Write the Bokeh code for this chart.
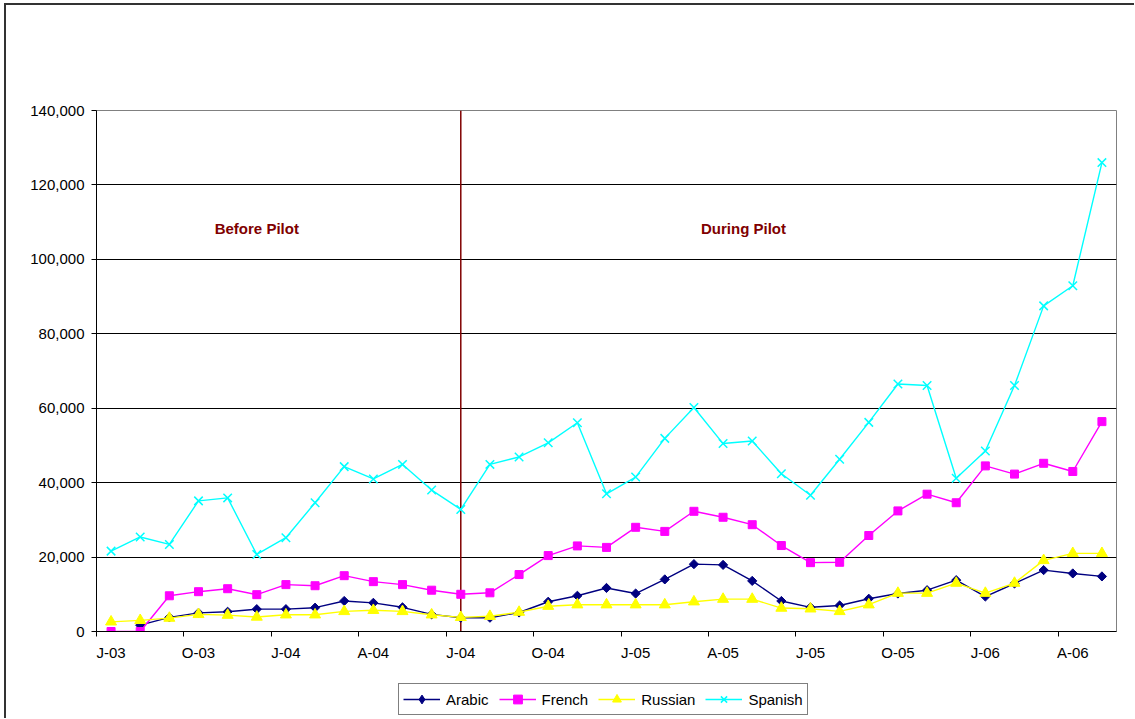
import math

from bokeh.embed import file_html
from bokeh.layouts import column
from bokeh.models import (FixedTicker, Label, Legend, LegendItem,
                          NumeralTickFormatter, Range1d, Span)
from bokeh.plotting import figure
from bokeh.resources import INLINE

# Monthly volumes, July 2003 through May 2006 (35 months)
months = list(range(35))
tick_labels = ["J-03", "O-03", "J-04", "A-04", "J-04", "O-04",
               "J-05", "A-05", "J-05", "O-05", "J-06", "A-06"]

arabic = [math.nan, 1700, 3800, 5000, 5300, 6000, 6000, 6400, 8200, 7700, 6500, 4600,
          3700, 3700, 5100, 8000, 9600, 11700, 10200, 14000, 18100, 17900, 13600, 8200,
          6500, 7000, 8800, 10200, 11100, 13800, 9400, 12900, 16500, 15600, 14800]
french = [0, 0, 9600, 10700, 11500, 9900, 12600, 12300, 15000, 13400, 12600, 11100,
          10000, 10400, 15300, 20400, 23000, 22600, 28000, 26900, 32300, 30700, 28700, 23100,
          18500, 18600, 25800, 32400, 36900, 34600, 44500, 42300, 45200, 43000, 56400]
russian = [2600, 3000, 3600, 4600, 4400, 3900, 4500, 4500, 5400, 5700, 5400, 4500,
           3800, 4100, 5200, 6800, 7200, 7200, 7200, 7200, 8000, 8700, 8700, 6300,
           6100, 5400, 7200, 10300, 10300, 13000, 10300, 13000, 19100, 21000, 21000]
spanish = [21600, 25400, 23400, 35100, 35900, 20700, 25200, 34600, 44300, 41000, 44900, 38000,
           32800, 44900, 46900, 50700, 56100, 37000, 41500, 51900, 60200, 50500, 51200, 42400,
           36600, 46300, 56200, 66500, 66100, 41200, 48500, 66100, 87500, 92900, 126000]

pilot_start = 12  # July 2004

FONT = "Liberation Sans"
EDGE = "2px solid #333333"

p = figure(frame_width=1018, frame_height=519,
           x_range=Range1d(-0.5, 34.5), y_range=Range1d(0, 140000),
           output_backend="svg", toolbar_location=None,
           min_border_left=90, min_border_right=20, min_border_top=105, min_border_bottom=50,
           background_fill_color="white", border_fill_color="white")
p.styles = {"margin-left": "4px", "margin-top": "3px", "border-left": EDGE, "border-top": EDGE}

# category axis: labels every third month, tick marks between categories
p.xaxis.ticker = FixedTicker(ticks=[i for i in months if i % 3 == 0],
                             minor_ticks=[i - 0.5 for i in months if i % 3 == 0])
p.xaxis.major_label_overrides = {i * 3: lbl for i, lbl in enumerate(tick_labels)}
p.xaxis.major_tick_in = 0
p.xaxis.major_tick_out = 0
p.xaxis.minor_tick_in = 0
p.xaxis.minor_tick_out = 5
p.xaxis.minor_tick_line_color = "black"
p.xaxis.major_label_standoff = 7

p.yaxis.ticker = FixedTicker(ticks=list(range(0, 140001, 20000)))
p.yaxis.formatter = NumeralTickFormatter(format="0,0")
p.yaxis.major_tick_in = 0
p.yaxis.major_tick_out = 5
p.yaxis.minor_tick_line_color = None
p.yaxis.major_label_standoff = 7

for ax in (p.xaxis, p.yaxis):
    ax.axis_line_color = "black"
    ax.major_tick_line_color = "black"
    ax.major_label_text_font = FONT
    ax.major_label_text_font_size = "15px"
    ax.major_label_text_color = "black"

p.xgrid.visible = False
p.ygrid.ticker = FixedTicker(ticks=list(range(20000, 120001, 20000)))
p.ygrid.grid_line_color = "black"
p.ygrid.grid_line_width = 1
p.outline_line_color = "#808080"
p.outline_line_width = 1

# pilot start marker
p.add_layout(Span(location=pilot_start, dimension="height", line_color="#800000",
                  line_width=1.5, level="underlay"))

series = [
    ("Arabic", arabic, "#000080", "square", dict(size=6.5, angle=math.pi / 4), "diamond"),
    ("French", french, "#FF00FF", "square", dict(size=8), "square"),
    ("Russian", russian, "#FFFF00", "triangle", dict(size=11), "triangle"),
    ("Spanish", spanish, "#00FFFF", "x", dict(size=12, line_width=1.5), "x"),
]

for name, vals, color, marker, mk, _ in series:
    p.line(months, vals, line_color=color, line_width=1.4)
    p.scatter(months, vals, marker=marker, fill_color=color, line_color=color, **mk)

for txt, xpos in (("Before Pilot", 5.0), ("During Pilot", 21.7)):
    p.add_layout(Label(x=xpos, y=108400, text=txt, text_align="center",
                       text_baseline="alphabetic", text_font=FONT, text_font_size="15px",
                       text_font_style="bold", text_color="#800000"))

# legend strip under the chart; its series sit outside its (empty) view
leg = figure(width=1128, height=39, x_range=Range1d(0, 1), y_range=Range1d(-2, -1),
             output_backend="svg", toolbar_location=None,
             x_axis_location=None, y_axis_location=None,
             min_border=0, min_border_left=0, min_border_right=0,
             min_border_top=0, min_border_bottom=0,
             background_fill_color="white", border_fill_color="white")
leg.styles = {"margin-left": "4px", "border-left": EDGE}
leg.outline_line_color = None
leg.grid.visible = False

items = []
for name, vals, color, marker, mk, leg_marker in series:
    lw = mk.get("line_width", 1)
    ln = leg.line(months, vals, line_color=color, line_width=1.4)
    sc = leg.scatter(months, vals, marker=leg_marker, fill_color=color, line_color=color,
                     line_width=lw)
    items.append(LegendItem(label=name, renderers=[ln, sc]))

legend = Legend(items=items, orientation="horizontal", location=(302, 3), margin=0,
                padding=4, spacing=10, label_standoff=6, glyph_width=37, glyph_height=22,
                label_height=18, label_text_font=FONT, label_text_font_size="15px",
                label_text_color="black", border_line_color="black", border_line_width=1,
                background_fill_color="white")
leg.add_layout(legend)

page = column(p, leg, spacing=0)
open("out.html", "w").write(file_html(page, INLINE))
